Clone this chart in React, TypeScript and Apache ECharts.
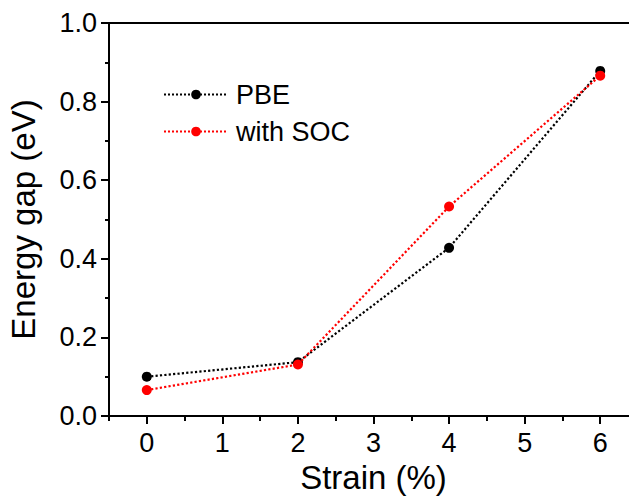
import React, { useEffect, useRef } from "react";
import * as echarts from "echarts";

const strain = [0, 2, 4, 6];
const pbe = [0.1, 0.137, 0.428, 0.878];
const withSoc = [0.066, 0.131, 0.533, 0.866];
const xMajorTicks = [0, 1, 2, 3, 4, 5, 6];
const xMinorTicks = [-0.5, 0.5, 1.5, 2.5, 3.5, 4.5, 5.5];
const seriesNames = ["PBE", "with SOC"];

const FONT = "'Liberation Sans', Arial, sans-serif";

export default function App() {
  const ref = useRef<HTMLDivElement>(null);
  useEffect(() => {
    document.body.style.margin = "0";
    const chart = echarts.init(ref.current!, null, { renderer: "svg" });
    const axisLine = { show: true, onZero: false, lineStyle: { color: "#000", width: 2 } };
    chart.setOption({
      animation: false,
      backgroundColor: "#fff",
      textStyle: { fontFamily: FONT },
      grid: {
        left: 109,
        top: 23,
        right: -9,
        bottom: 82,
        containLabel: false,
        outerBoundsMode: "none",
        show: true,
        borderColor: "#000",
        borderWidth: 2,
        backgroundColor: "transparent",
      },
      legend: {
        orient: "vertical",
        left: 163,
        top: 81,
        padding: 0,
        itemWidth: 64,
        itemHeight: 12,
        itemGap: 10,
        data: seriesNames,
        textStyle: {
          fontSize: 27,
          color: "#000",
          fontFamily: FONT,
          padding: [0, 0, 0, 3],
        },
      },
      xAxis: [
        {
          type: "value",
          min: -0.5,
          max: 6.5,
          position: "bottom",
          name: "Strain (%)",
          nameLocation: "middle",
          nameGap: 42,
          nameTextStyle: { fontSize: 33, color: "#000", fontFamily: FONT },
          axisLine,
          splitLine: { show: false },
          axisTick: {
            show: true,
            customValues: xMajorTicks,
            length: 8,
            lineStyle: { color: "#000", width: 2 },
          },
          axisLabel: {
            show: true,
            customValues: xMajorTicks,
            fontSize: 27,
            color: "#000",
            margin: 13,
            fontFamily: FONT,
          },
        },
        {
          type: "value",
          min: -0.5,
          max: 6.5,
          position: "bottom",
          axisLine: { show: false, onZero: false },
          splitLine: { show: false },
          axisTick: {
            show: true,
            customValues: xMinorTicks,
            length: 5,
            lineStyle: { color: "#000", width: 2 },
          },
          axisLabel: { show: false },
        },
      ],
      yAxis: {
        type: "value",
        min: 0,
        max: 1,
        interval: 0.2,
        name: "Energy gap (eV)",
        nameLocation: "middle",
        nameGap: 69,
        nameTextStyle: { fontSize: 33, color: "#000", fontFamily: FONT },
        axisLine,
        splitLine: { show: false },
        axisTick: { show: true, length: 8, lineStyle: { color: "#000", width: 2 } },
        minorTick: { show: true, splitNumber: 2, length: 4, lineStyle: { color: "#000", width: 2 } },
        axisLabel: {
          fontSize: 27,
          color: "#000",
          margin: 12,
          fontFamily: FONT,
          formatter: (v: number) => v.toFixed(1),
        },
      },
      series: [
        {
          name: seriesNames[0],
          type: "line",
          data: strain.map((x, i) => [x, pbe[i]]),
          symbol: "circle",
          symbolSize: 10,
          itemStyle: { color: "#000" },
          lineStyle: { color: "#000", width: 2.2, type: "dotted" },
          z: 2,
        },
        {
          name: seriesNames[1],
          type: "line",
          data: strain.map((x, i) => [x, withSoc[i]]),
          symbol: "circle",
          symbolSize: 10,
          itemStyle: { color: "#ff0000" },
          lineStyle: { color: "#ff0000", width: 2.2, type: "dotted" },
          z: 3,
        },
      ],
    });
    return () => chart.dispose();
  }, []);
  return (
    <div
      ref={ref}
      style={{ position: "fixed", left: 0, top: 0, width: 629, height: 498, overflow: "hidden" }}
    />
  );
}
